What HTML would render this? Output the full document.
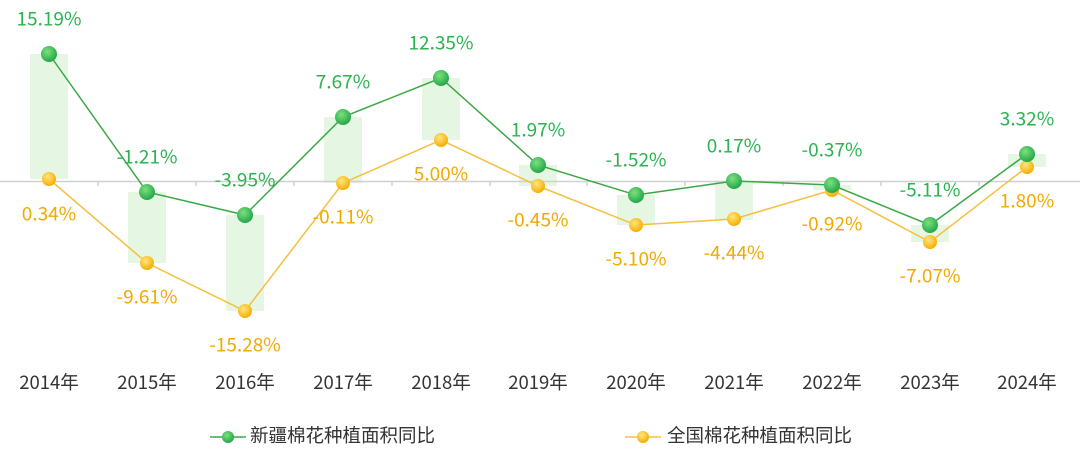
<!DOCTYPE html>
<html><head><meta charset="utf-8"><style>
html,body{margin:0;padding:0;background:#fff;}
svg{display:block;font-family:"Noto Sans CJK SC","Liberation Sans",sans-serif;}
</style></head><body>
<svg width="1080" height="455" viewBox="0 0 1080 455">
<defs>
<radialGradient id="gg" cx="40%" cy="35%" r="65%"><stop offset="0" stop-color="#7ee07e"/><stop offset="1" stop-color="#22a84a"/></radialGradient>
<radialGradient id="yg" cx="40%" cy="35%" r="65%"><stop offset="0" stop-color="#ffe680"/><stop offset="1" stop-color="#f5ae00"/></radialGradient>
</defs>
<g fill="#e5f6e2">
<rect x="30" y="54" width="38" height="125"/>
<rect x="128" y="192" width="38" height="71"/>
<rect x="226" y="215" width="38" height="96"/>
<rect x="324" y="117" width="38" height="66"/>
<rect x="422" y="78" width="38" height="62"/>
<rect x="519" y="165" width="38" height="21"/>
<rect x="617" y="195" width="38" height="30"/>
<rect x="715" y="181" width="38" height="39"/>
<rect x="813" y="185" width="38" height="5"/>
<rect x="911" y="225" width="38" height="17"/>
<rect x="1008" y="154" width="38" height="13"/>
</g>
<line x1="0" y1="181.5" x2="1080" y2="181.5" stroke="#d0d0d0" stroke-width="1.5"/>
<g stroke="#d0d0d0" stroke-width="1.5">
<line x1="98" y1="181" x2="98" y2="186"/><line x1="196" y1="181" x2="196" y2="186"/><line x1="294" y1="181" x2="294" y2="186"/><line x1="392" y1="181" x2="392" y2="186"/><line x1="490" y1="181" x2="490" y2="186"/><line x1="587" y1="181" x2="587" y2="186"/><line x1="685" y1="181" x2="685" y2="186"/><line x1="783" y1="181" x2="783" y2="186"/><line x1="881" y1="181" x2="881" y2="186"/><line x1="979" y1="181" x2="979" y2="186"/>
</g>
<polyline fill="none" stroke="#f5c040" stroke-width="1.5" points="49,179 147,263 245,311 343,183 441,140 538,186 636,225 734,219 832,190 930,242 1027,167"/>
<polyline fill="none" stroke="#3aa845" stroke-width="1.5" points="49,54 147,192 245,215 343,117 441,78 538,165 636,195 734,181 832,185 930,225 1027,154"/>
<g fill="url(#yg)">
<circle cx="49" cy="179" r="7"/><circle cx="147" cy="263" r="7"/><circle cx="245" cy="311" r="7"/><circle cx="343" cy="183" r="7"/><circle cx="441" cy="140" r="7"/><circle cx="538" cy="186" r="7"/><circle cx="636" cy="225" r="7"/><circle cx="734" cy="219" r="7"/><circle cx="832" cy="190" r="7"/><circle cx="930" cy="242" r="7"/><circle cx="1027" cy="167" r="7"/>
</g>
<g fill="url(#gg)">
<circle cx="49" cy="54" r="8"/><circle cx="147" cy="192" r="8"/><circle cx="245" cy="215" r="8"/><circle cx="343" cy="117" r="8"/><circle cx="441" cy="78" r="8"/><circle cx="538" cy="165" r="8"/><circle cx="636" cy="195" r="8"/><circle cx="734" cy="181" r="8"/><circle cx="832" cy="185" r="8"/><circle cx="930" cy="225" r="8"/><circle cx="1027" cy="154" r="8"/>
</g>
<g fill="#2bb34f" font-size="19" text-anchor="middle" dominant-baseline="central">
<text x="49" y="18">15.19%</text><text x="147" y="156">-1.21%</text><text x="245" y="179">-3.95%</text><text x="343" y="81">7.67%</text><text x="441" y="42">12.35%</text><text x="538" y="129">1.97%</text><text x="636" y="159">-1.52%</text><text x="734" y="145">0.17%</text><text x="832" y="149">-0.37%</text><text x="930" y="189">-5.11%</text><text x="1027" y="118">3.32%</text>
</g>
<g fill="#f2a900" font-size="19" text-anchor="middle" dominant-baseline="central">
<text x="49" y="213">0.34%</text><text x="147" y="296">-9.61%</text><text x="245" y="344">-15.28%</text><text x="343" y="216">-0.11%</text><text x="441" y="173">5.00%</text><text x="538" y="219">-0.45%</text><text x="636" y="258">-5.10%</text><text x="734" y="252">-4.44%</text><text x="832" y="223">-0.92%</text><text x="930" y="275">-7.07%</text><text x="1027" y="200">1.80%</text>
</g>
<g fill="#333" font-size="18.5" text-anchor="middle" dominant-baseline="central">
<text x="49" y="382">2014年</text><text x="147" y="382">2015年</text><text x="245" y="382">2016年</text><text x="343" y="382">2017年</text><text x="441" y="382">2018年</text><text x="538" y="382">2019年</text><text x="636" y="382">2020年</text><text x="734" y="382">2021年</text><text x="832" y="382">2022年</text><text x="930" y="382">2023年</text><text x="1027" y="382">2024年</text>
</g>
<line x1="210" y1="437" x2="246" y2="437" stroke="#3aa845" stroke-width="1.5"/>
<circle cx="228" cy="437" r="6" fill="url(#gg)"/>
<text x="250" y="435" font-size="18.5" fill="#333" dominant-baseline="central">新疆棉花种植面积同比</text>
<line x1="625" y1="437" x2="661" y2="437" stroke="#f5c040" stroke-width="1.5"/>
<circle cx="643" cy="437" r="6" fill="url(#yg)"/>
<text x="667" y="435" font-size="18.5" fill="#333" dominant-baseline="central">全国棉花种植面积同比</text>
</svg>
</body></html>
